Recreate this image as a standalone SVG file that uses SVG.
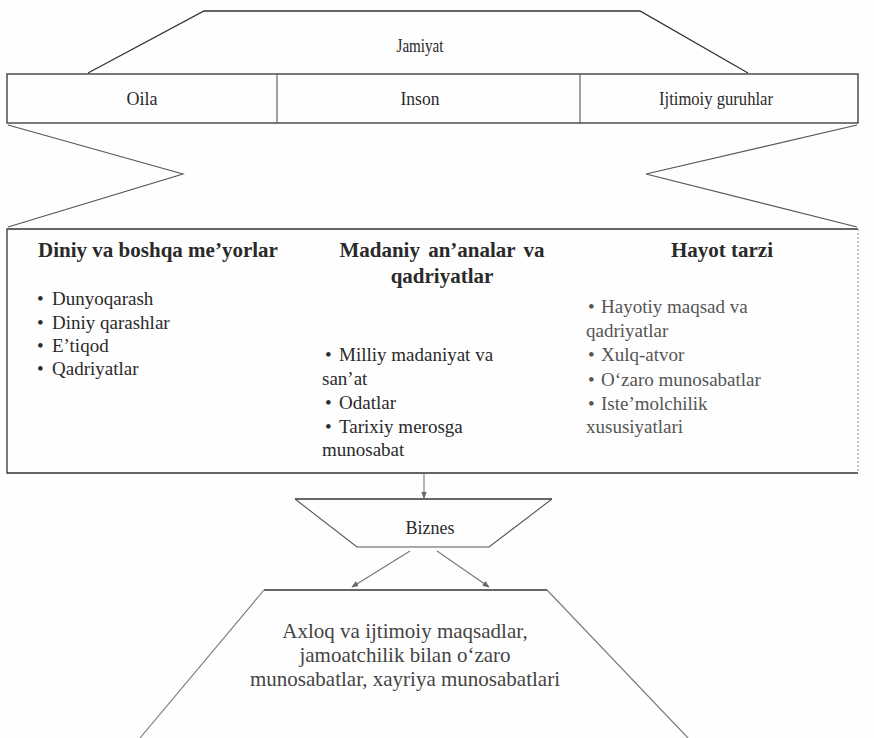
<svg xmlns="http://www.w3.org/2000/svg" width="874" height="738" viewBox="0 0 874 738">
  <defs>
    <marker id="arrow" viewBox="0 0 10 10" refX="9" refY="5" markerWidth="7" markerHeight="7" markerUnits="userSpaceOnUse" orient="auto">
      <path d="M0,1 L10,5 L0,9 z" fill="#666"/>
    </marker>
    <style>
      text { font-family: "Liberation Serif", "Times New Roman", serif; fill: #2a2a2a; }
      .line { fill: none; stroke: #333; stroke-width: 1.3; }
      .thin { fill: none; stroke: #555; stroke-width: 1.1; }
      .light { fill: none; stroke: #777; stroke-width: 1.1; }
      .cell { font-size: 18px; text-anchor: middle; }
      .head { font-size: 21px; font-weight: bold; text-anchor: middle; }
      .item { font-size: 19px; }
      .faded { fill: #555; }
      .mid { font-size: 21px; text-anchor: middle; fill: #444; }
      .conn { fill: none; stroke: #777; stroke-width: 1.1; marker-end: url(#arrow); }
    </style>
  </defs>

  <rect width="874" height="738" fill="#fefefe"/>

  <!-- Society: top trapezoid -->
  <g id="jamiyat">
    <path class="line" d="M88,73 L204,11 L640,11 L748,73"/>
    <text class="cell" x="420" y="52" textLength="47" lengthAdjust="spacingAndGlyphs">Jamiyat</text>
  </g>

  <!-- Family / person / social groups row -->
  <g id="row">
    <rect class="line" x="7" y="74" width="851" height="49"/>
    <line class="thin" x1="277" y1="74" x2="277" y2="123"/>
    <line class="thin" x1="580" y1="74" x2="580" y2="123"/>
  </g>
  <g id="oila"><text class="cell" x="142" y="105" textLength="31" lengthAdjust="spacingAndGlyphs">Oila</text></g>
  <g id="inson"><text class="cell" x="420" y="105" textLength="39" lengthAdjust="spacingAndGlyphs">Inson</text></g>
  <g id="ijtimoiy"><text class="cell" x="716" y="105" textLength="114" lengthAdjust="spacingAndGlyphs">Ijtimoiy guruhlar</text></g>

  <!-- Chevrons between the row and the factors box -->
  <g id="chevrons">
    <path class="thin" d="M8,125 L183,174 L8,227"/>
    <path class="thin" d="M857,125 L646,174 L857,227"/>
  </g>

  <!-- Factors box -->
  <g id="factors">
    <path class="line" d="M858,229 L7,229 L7,473 L858,473"/>
    <line x1="858" y1="229" x2="858" y2="473" stroke="#888" stroke-width="1" stroke-dasharray="2 2"/>
  </g>

  <g id="diniy">
    <text class="head" x="158" y="257">Diniy va boshqa me’yorlar</text>
    <text class="item" x="37" y="305">•<tspan x="52">Dunyoqarash</tspan></text>
    <text class="item" x="37" y="329">•<tspan x="52">Diniy qarashlar</tspan></text>
    <text class="item" x="37" y="352">•<tspan x="52">E’tiqod</tspan></text>
    <text class="item" x="37" y="375">•<tspan x="52">Qadriyatlar</tspan></text>
  </g>

  <g id="madaniy">
    <text class="head" x="442" y="257" style="word-spacing:3px">Madaniy an’analar va</text>
    <text class="head" x="442" y="283">qadriyatlar</text>
    <text class="item" x="325" y="361">•<tspan x="339">Milliy madaniyat va</tspan></text>
    <text class="item" x="322" y="385">san’at</text>
    <text class="item" x="325" y="409">•<tspan x="339">Odatlar</tspan></text>
    <text class="item" x="325" y="433">•<tspan x="339">Tarixiy merosga</tspan></text>
    <text class="item" x="322" y="456">munosabat</text>
  </g>

  <g id="hayot">
    <text class="head" x="722" y="257">Hayot tarzi</text>
    <text class="item faded" x="588" y="313">•<tspan x="601">Hayotiy maqsad va</tspan></text>
    <text class="item faded" x="586" y="337">qadriyatlar</text>
    <text class="item faded" x="588" y="361">•<tspan x="601">Xulq-atvor</tspan></text>
    <text class="item faded" x="588" y="386">•<tspan x="601">O‘zaro munosabatlar</tspan></text>
    <text class="item faded" x="588" y="410">•<tspan x="601">Iste’molchilik</tspan></text>
    <text class="item faded" x="586" y="433">xususiyatlari</text>
  </g>

  <!-- Business: inverted trapezoid -->
  <g id="biznes">
    <path class="line" d="M295,499 L552,499"/>
    <path class="thin" d="M552,499 L489,547 L357,547 L295,499"/>
    <text class="cell" x="430" y="534">Biznes</text>
  </g>

  <!-- Ethics and social goals: bottom trapezoid -->
  <g id="axloq">
    <path class="line" d="M264,590 L547,590"/>
    <path class="light" d="M264,590 L140,738 M547,590 L688,738"/>
    <text class="mid" x="405" y="638">Axloq va ijtimoiy maqsadlar,</text>
    <text class="mid" x="405" y="662">jamoatchilik bilan o‘zaro</text>
    <text class="mid" x="405" y="686">munosabatlar, xayriya munosabatlari</text>
  </g>

  <!-- Connectors -->
  <g id="connectors">
    <line class="conn" x1="424" y1="473" x2="424" y2="498"/>
    <line class="conn" x1="410" y1="551" x2="352" y2="587"/>
    <line class="conn" x1="437" y1="551" x2="489" y2="587"/>
  </g>
</svg>
